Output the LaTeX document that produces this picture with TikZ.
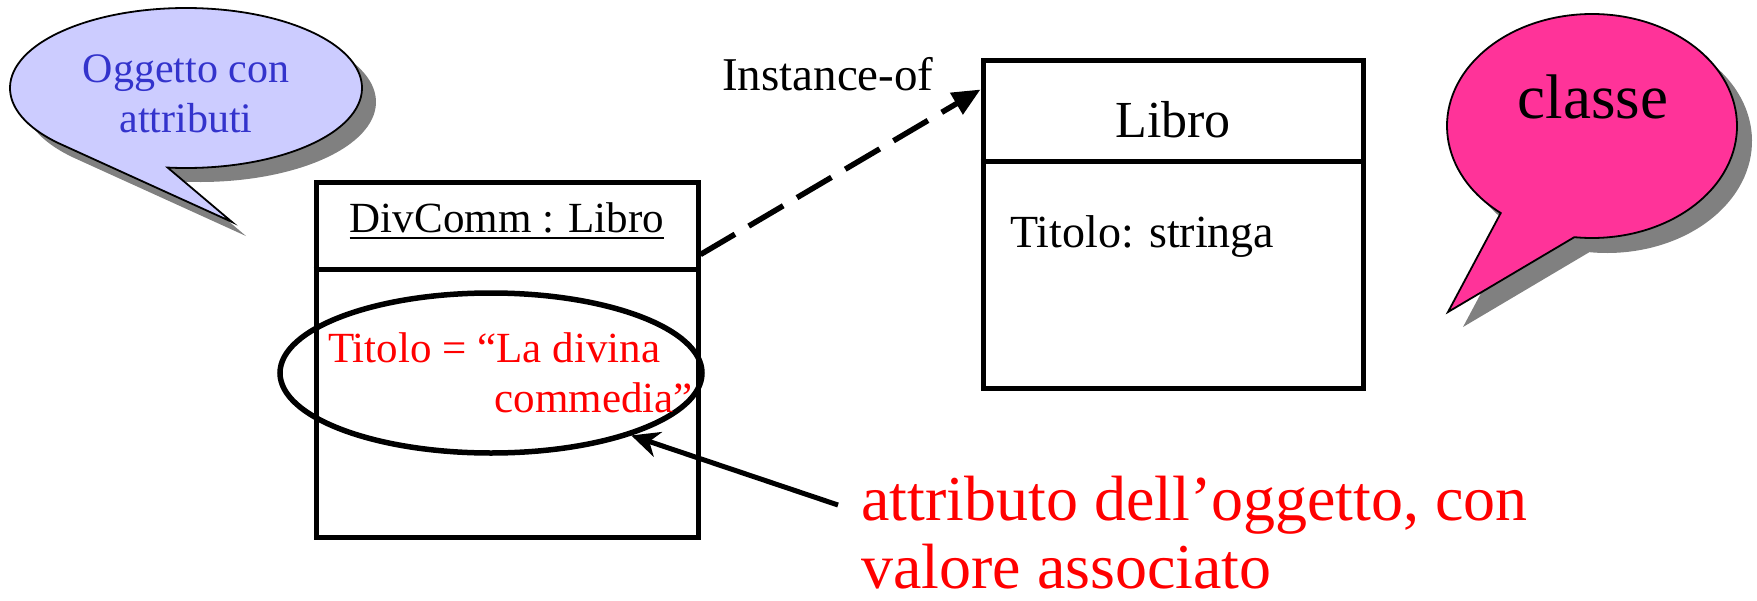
\documentclass[tikz,border=0pt]{standalone}
\usepackage{fontspec}
\setmainfont{Liberation Serif}
\usetikzlibrary{arrows.meta,calc,shapes.geometric}
\definecolor{bubbleblue}{HTML}{CCCCFF}
\definecolor{textblue}{HTML}{3333CC}
\definecolor{bubblepink}{HTML}{FF3399}
\definecolor{shadowgray}{HTML}{808080}
\definecolor{attrred}{HTML}{FF0000}
\tikzset{
  umlbox/.style={draw, line width=5pt, rectangle, inner sep=0pt},
  sep/.style={line width=5pt},
  bubbleline/.style={draw=black, line width=1.8pt},
  txt/.style={inner sep=0pt},
  dasharrow/.style={line width=5.5pt, dash pattern=on 40pt off 16pt, -{Triangle[length=28pt,width=24pt]}},
  solidarrow/.style={line width=5pt, -{Stealth[length=28pt,width=26pt,inset=9pt]}}
}
\begin{document}
\begin{tikzpicture}[x=1pt,y=-1pt]
\useasboundingbox (0,0) rectangle (1757,600);

% blue speech bubble
\fill[shadowgray, shift={(14,14)}] ($(186,88)+(136:176 and 80)$) arc[start angle=136,end angle=456,x radius=176,y radius=80] -- (232,222) -- cycle;
\filldraw[fill=bubbleblue, bubbleline] ($(186,88)+(136:176 and 80)$) arc[start angle=136,end angle=456,x radius=176,y radius=80] -- (232,222) -- cycle;
\node[txt, textblue, font=\fontsize{42}{50}\selectfont, anchor=base] (b1) at (186,82) {Oggetto con};
\node[txt, textblue, font=\fontsize{42}{50}\selectfont, anchor=base] (b2) at (186,132) {attributi};

% pink speech bubble
\fill[shadowgray, shift={(15,15)}] ($(1592,126)+(129:145 and 112)$) arc[start angle=129,end angle=457,x radius=145,y radius=112] -- (1448,312) -- cycle;
\filldraw[fill=bubblepink, bubbleline] ($(1592,126)+(129:145 and 112)$) arc[start angle=129,end angle=457,x radius=145,y radius=112] -- (1448,312) -- cycle;
\node[txt, font=\fontsize{63}{70}\selectfont, anchor=base] (pk) at (1593,118) {classe};

% object box
\node[umlbox, minimum width=382pt, minimum height=355pt] (obj) at (507,359.5) {};
\draw[sep] ($(obj.north west)+(0,90)$) -- ($(obj.north east)+(0,90)$);
\node[txt, font=\fontsize{43}{50}\selectfont, anchor=base] (on) at (507,232) {DivComm : Libro};
\draw[line width=2.5pt] ($(on.base west)+(0,6)$) -- ($(on.base east)+(0,6)$);

% class box
\node[umlbox, minimum width=380pt, minimum height=328pt] (cls) at (1173,224) {};
\draw[sep] ($(cls.north west)+(0,104)$) -- ($(cls.north east)+(0,104)$);
\node[txt, font=\fontsize{52}{60}\selectfont, anchor=base] (cn) at (1173,137) {Libro};
\node[txt, font=\fontsize{46}{54}\selectfont, anchor=base west] (ca) at (1010,247) {Titolo: stringa};

% instance-of
\node[txt, font=\fontsize{47}{54}\selectfont, anchor=base west] (inst) at (722,90) {Instance-of};
\draw[dasharrow] ($(obj.north east)+(0,75)$) -- ($(cls.north west)+(0,32)$);

% attribute value with ellipse
\node[draw, ellipse, line width=5.5pt, minimum width=422pt, minimum height=160pt, inner sep=0pt] (ell) at (491,373) {};
\node[txt, attrred, font=\fontsize{43}{50}\selectfont, anchor=base west] (v1) at (328,362) {Titolo = “La divina};
\node[txt, attrred, font=\fontsize{43}{50}\selectfont, anchor=base east] (v2) at (693,412) {commedia”};

% explanation
\node[txt, attrred, font=\fontsize{64}{73}\selectfont, anchor=base west] (a1) at (861,520) {attributo dell’oggetto, con};
\node[txt, attrred, font=\fontsize{64}{73}\selectfont, anchor=base west] (a2) at (861,588) {valore associato};
\coordinate (tail) at (838,505);
\draw[solidarrow] (tail) -- (ell.-24);
\end{tikzpicture}
\end{document}
